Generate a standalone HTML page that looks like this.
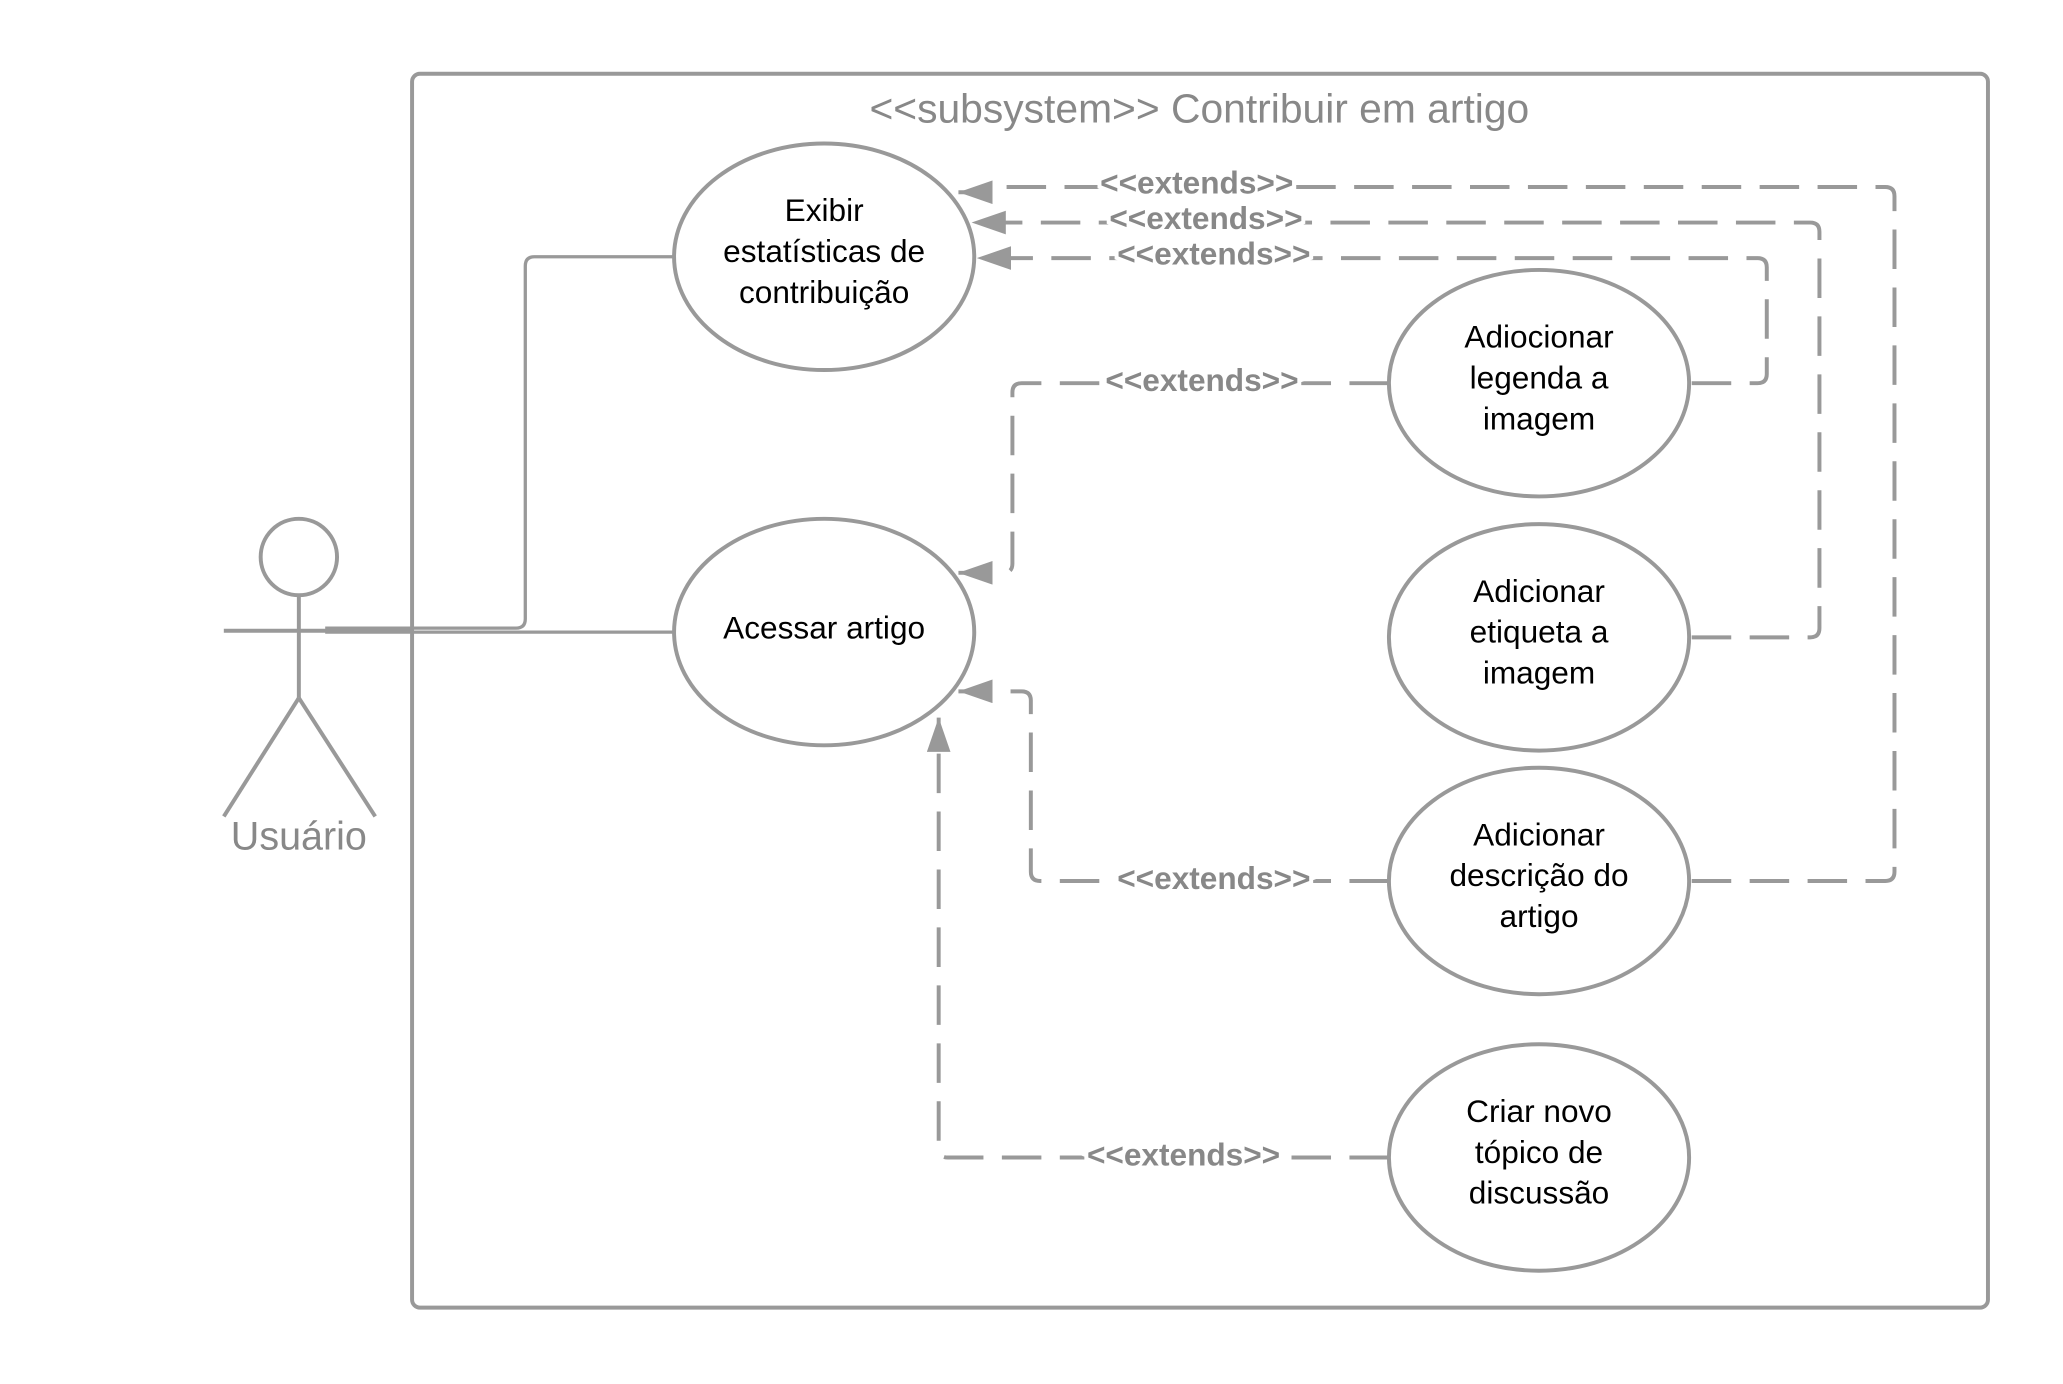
<!DOCTYPE html>
<html><head><meta charset="utf-8"><style>
html,body{margin:0;padding:0;background:#fff;}
svg{display:block;}
</style></head><body>
<svg width="2063" height="1384" viewBox="0 0 1567 1051" preserveAspectRatio="none" xmlns="http://www.w3.org/2000/svg">
<defs>
<marker id="b" markerWidth="26" markerHeight="18" refX="26" refY="9" orient="auto" markerUnits="userSpaceOnUse">
<path d="M0,0 L26,9 L0,18 z" fill="#999"/>
</marker>
</defs>
<rect width="1567" height="1051" fill="#fff"/>
<rect x="313" y="56" width="1197" height="937" rx="6" fill="none" stroke="#999" stroke-width="3"/>
<text x="911" y="93" font-family="Liberation Sans, sans-serif" font-size="31" fill="#888" text-anchor="middle">&lt;&lt;subsystem&gt;&gt; Contribuir em artigo</text>

<g fill="none" stroke="#999" stroke-width="3">
<circle cx="227" cy="423" r="29"/>
<line x1="227" y1="452" x2="227" y2="530"/>
<line x1="170" y1="479" x2="313" y2="479"/>
<line x1="227" y1="530" x2="170" y2="620"/>
<line x1="227" y1="530" x2="285" y2="620"/>
<line x1="247" y1="480" x2="512" y2="480" stroke-width="2.5"/>
<path d="M247,477 H392 Q399,477 399,470 V202 Q399,195 406,195 H512" stroke-width="2.5"/>
</g>
<text x="227" y="645" font-family="Liberation Sans, sans-serif" font-size="30" fill="#888" text-anchor="middle">Usuário</text>

<g fill="none" stroke="#999" stroke-width="3" stroke-dasharray="30 14">
<path d="M1285,669 H1432 Q1439,669 1439,662 V149 Q1439,142 1432,142 H760 Q753,142 753,146 H728" marker-end="url(#b)"/>
<path d="M1285,484 H1375 Q1382,484 1382,477 V176 Q1382,169 1375,169 H738" marker-end="url(#b)"/>
<path d="M1285,291 H1335 Q1342,291 1342,284 V203 Q1342,196 1335,196 H742" marker-end="url(#b)"/>
<path d="M1055,291 H776 Q769,291 769,298 V428 Q769,435 762,435 H728" marker-end="url(#b)"/>
<path d="M1055,669 H790 Q783,669 783,662 V532 Q783,525 776,525 H728" marker-end="url(#b)"/>
<path d="M1055,879 H720 Q713,879 713,872 V545" marker-end="url(#b)"/>
</g>

<g font-family="Liberation Sans, sans-serif" font-size="24" font-weight="bold" fill="#888" text-anchor="middle" stroke="#fff" stroke-width="6" paint-order="stroke">
<text x="909" y="147">&lt;&lt;extends&gt;&gt;</text>
<text x="916" y="174">&lt;&lt;extends&gt;&gt;</text>
<text x="922" y="201">&lt;&lt;extends&gt;&gt;</text>
<text x="913" y="297">&lt;&lt;extends&gt;&gt;</text>
<text x="922" y="675">&lt;&lt;extends&gt;&gt;</text>
<text x="899" y="885">&lt;&lt;extends&gt;&gt;</text>
</g>

<g fill="#fff" stroke="#999" stroke-width="3">
<ellipse cx="626" cy="195" rx="114" ry="86"/>
<ellipse cx="626" cy="480" rx="114" ry="86"/>
<ellipse cx="1169" cy="291" rx="114" ry="86"/>
<ellipse cx="1169" cy="484" rx="114" ry="86"/>
<ellipse cx="1169" cy="669" rx="114" ry="86"/>
<ellipse cx="1169" cy="879" rx="114" ry="86"/>
</g>

<g font-family="Liberation Sans, sans-serif" font-size="24" fill="#000" text-anchor="middle">
<text x="626" y="168">Exibir</text>
<text x="626" y="199">estatísticas de</text>
<text x="626" y="230">contribuição</text>
<text x="626" y="485">Acessar artigo</text>
<text x="1169" y="264">Adiocionar</text>
<text x="1169" y="295">legenda a</text>
<text x="1169" y="326">imagem</text>
<text x="1169" y="457">Adicionar</text>
<text x="1169" y="488">etiqueta a</text>
<text x="1169" y="519">imagem</text>
<text x="1169" y="642">Adicionar</text>
<text x="1169" y="673">descrição do</text>
<text x="1169" y="704">artigo</text>
<text x="1169" y="852">Criar novo</text>
<text x="1169" y="883">tópico de</text>
<text x="1169" y="914">discussão</text>
</g>
</svg>
</body></html>
